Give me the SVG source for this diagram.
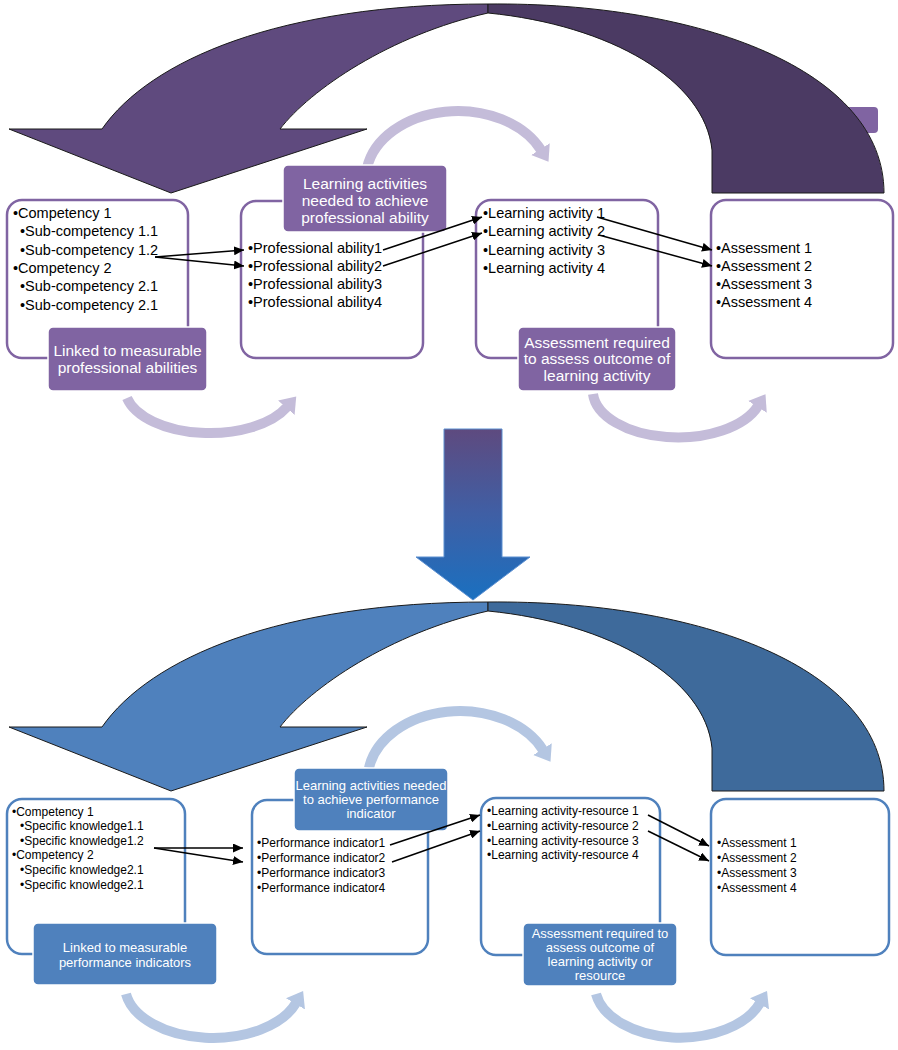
<svg xmlns="http://www.w3.org/2000/svg" width="898" height="1050" viewBox="0 0 898 1050">
<style>
.bg{fill:#ffffff}
.boxP{fill:#ffffff;stroke:#8064a2;stroke-width:2.5}
.boxB{fill:#ffffff;stroke:#4f81bd;stroke-width:2.5}
.labP{fill:#8064a2;stroke:#ffffff;stroke-width:1.5}
.labB{fill:#4f81bd;stroke:#ffffff;stroke-width:1.5}
.t1{font-family:"Liberation Sans",Arial,sans-serif;font-size:14.5px;fill:#000}
.t2{font-family:"Liberation Sans",Arial,sans-serif;font-size:12px;fill:#000}
.lt1{font-family:"Liberation Sans",Arial,sans-serif;font-size:15.5px;fill:#ffffff;text-anchor:middle}
.lt2{font-family:"Liberation Sans",Arial,sans-serif;font-size:13px;fill:#ffffff;text-anchor:middle}
.conn{stroke:#000;stroke-width:1.5;fill:none;marker-end:url(#ah)}
.arcP{fill:none;stroke:#c4bcd9;stroke-width:10;marker-end:url(#hP)}
.arcB{fill:none;stroke:#b4c6e2;stroke-width:10;marker-end:url(#hB)}
.edge{stroke:#1a1a1a;stroke-width:1}
</style>
<defs>
<marker id="ah" markerUnits="userSpaceOnUse" markerWidth="11" markerHeight="9" refX="10" refY="4.5" orient="auto"><path d="M0,0 L10,4.5 L0,9 z" fill="#000"/></marker>
<marker id="hP" markerUnits="userSpaceOnUse" markerWidth="16" markerHeight="22" refX="1" refY="11" orient="auto"><path d="M0,0 L15,11 L0,22 z" fill="#c4bcd9"/></marker>
<marker id="hB" markerUnits="userSpaceOnUse" markerWidth="16" markerHeight="22" refX="1" refY="11" orient="auto"><path d="M0,0 L15,11 L0,22 z" fill="#b4c6e2"/></marker>
<linearGradient id="gDown" x1="0" y1="0" x2="0" y2="1">
<stop offset="0" stop-color="#5e4a7f"/>
<stop offset="0.5" stop-color="#3f5fa5"/>
<stop offset="1" stop-color="#1a70c0"/>
</linearGradient>
</defs>
<rect class="bg" x="0" y="0" width="898" height="1050"/>

<!-- TOP SECTION -->
<g id="top-big-arrow">
<rect x="840" y="107" width="38" height="26" rx="4" fill="#8064a2"/>
<path class="edge" fill="#5f4a7e" d="M9,129 L102,129 C150,60 280,4 488,4 L488,13 C390,35 310,90 280,129 L367,129 L171,193 Z"/>
<path class="edge" fill="#4b3a63" d="M488,4 C700,2 884,70 884,193 L712,193 L712,150 C705,80 610,25 488,13 Z"/>
</g>
<g id="top-cycle-arrows">
<path class="arcP" d="M367,168 A92,68 0 0 1 541,150"/>
<path class="arcP" d="M127,398 A85,45 0 0 0 287,407"/>
<path class="arcP" d="M593,394 A85,47 0 0 0 758,406"/>
</g>
<g id="top-box1">
<rect class="boxP" x="7" y="200" width="181" height="158" rx="15"/>
<text class="t1" x="13" y="218">•Competency 1</text>
<text class="t1" x="20" y="236.3">•Sub-competency 1.1</text>
<text class="t1" x="20" y="254.6">•Sub-competency 1.2</text>
<text class="t1" x="13" y="272.9">•Competency 2</text>
<text class="t1" x="20" y="291.2">•Sub-competency 2.1</text>
<text class="t1" x="20" y="309.5">•Sub-competency 2.1</text>
</g>
<g id="top-box2">
<rect class="boxP" x="241" y="201" width="182" height="157" rx="15"/>
<text class="t1" x="248" y="253">•Professional ability1</text>
<text class="t1" x="248" y="271">•Professional ability2</text>
<text class="t1" x="248" y="289">•Professional ability3</text>
<text class="t1" x="248" y="307">•Professional ability4</text>
</g>
<g id="top-box3">
<rect class="boxP" x="476" y="200" width="182" height="158" rx="15"/>
<text class="t1" x="483" y="218">•Learning activity 1</text>
<text class="t1" x="483" y="236.3">•Learning activity 2</text>
<text class="t1" x="483" y="254.6">•Learning activity 3</text>
<text class="t1" x="483" y="272.9">•Learning activity 4</text>
</g>
<g id="top-box4">
<rect class="boxP" x="711" y="200" width="182" height="158" rx="15"/>
<text class="t1" x="716" y="253">•Assessment 1</text>
<text class="t1" x="716" y="271">•Assessment 2</text>
<text class="t1" x="716" y="289">•Assessment 3</text>
<text class="t1" x="716" y="307">•Assessment 4</text>
</g>
<g id="top-label1">
<rect class="labP" x="48" y="327" width="159" height="64" rx="5"/>
<text class="lt1" x="127.5" y="355.5">Linked to measurable</text>
<text class="lt1" x="127.5" y="372.5">professional abilities</text>
</g>
<g id="top-label2">
<rect class="labP" x="283" y="165" width="164" height="67" rx="5"/>
<text class="lt1" x="365" y="188.5">Learning activities</text>
<text class="lt1" x="365" y="205.5">needed to achieve</text>
<text class="lt1" x="365" y="222.5">professional ability</text>
</g>
<g id="top-label3">
<rect class="labP" x="518" y="327" width="158" height="64" rx="5"/>
<text class="lt1" x="597" y="347.5">Assessment required</text>
<text class="lt1" x="597" y="364">to assess outcome of</text>
<text class="lt1" x="597" y="380.5">learning activity</text>
</g>

<!-- MIDDLE ARROW -->
<g id="down-arrow">
<path d="M444,429 L502,429 L502,557 L530,557 L473,600 L416,557 L444,557 Z" fill="url(#gDown)" stroke="#5b8fd0" stroke-width="1"/>
</g>

<!-- BOTTOM SECTION -->
<g id="bottom-big-arrow" transform="translate(0,598)">
<path class="edge" fill="#4f81bd" d="M9,129 L102,129 C150,60 280,4 488,4 L488,13 C390,35 310,90 280,129 L367,129 L171,193 Z"/>
<path class="edge" fill="#3e6a9b" d="M488,4 C700,2 884,70 884,193 L712,193 L712,150 C705,80 610,25 488,13 Z"/>
</g>
<g id="bottom-cycle-arrows">
<path class="arcB" d="M369,768 A92,68 0 0 1 543,750"/>
<path class="arcB" d="M126,994 A88,52 0 0 0 296,1003"/>
<path class="arcB" d="M596,994 A85,52 0 0 0 760,1003"/>
</g>
<g id="bottom-box1">
<rect class="boxB" x="7" y="799" width="178" height="155" rx="15"/>
<text class="t2" x="12" y="815.5">•Competency 1</text>
<text class="t2" x="20" y="830">•Specific knowledge1.1</text>
<text class="t2" x="20" y="844.5">•Specific knowledge1.2</text>
<text class="t2" x="12" y="859">•Competency 2</text>
<text class="t2" x="20" y="874">•Specific knowledge2.1</text>
<text class="t2" x="20" y="889">•Specific knowledge2.1</text>
</g>
<g id="bottom-box2">
<rect class="boxB" x="252" y="800" width="176" height="154" rx="15"/>
<text class="t2" x="257" y="847">•Performance indicator1</text>
<text class="t2" x="257" y="862">•Performance indicator2</text>
<text class="t2" x="257" y="877">•Performance indicator3</text>
<text class="t2" x="257" y="892">•Performance indicator4</text>
</g>
<g id="bottom-box3">
<rect class="boxB" x="481" y="798" width="179" height="157" rx="15"/>
<text class="t2" x="487" y="815">•Learning activity-resource 1</text>
<text class="t2" x="487" y="830">•Learning activity-resource 2</text>
<text class="t2" x="487" y="845">•Learning activity-resource 3</text>
<text class="t2" x="487" y="859">•Learning activity-resource 4</text>
</g>
<g id="bottom-box4">
<rect class="boxB" x="711" y="799" width="178" height="156" rx="15"/>
<text class="t2" x="717" y="847">•Assessment 1</text>
<text class="t2" x="717" y="862">•Assessment 2</text>
<text class="t2" x="717" y="877">•Assessment 3</text>
<text class="t2" x="717" y="892">•Assessment 4</text>
</g>
<g id="bottom-label1">
<rect class="labB" x="33" y="923" width="184" height="62" rx="5"/>
<text class="lt2" x="125" y="951.5">Linked to measurable</text>
<text class="lt2" x="125" y="966.5">performance indicators</text>
</g>
<g id="bottom-label2">
<rect class="labB" x="294" y="768" width="154" height="63" rx="5"/>
<text class="lt2" x="371" y="789.5">Learning activities needed</text>
<text class="lt2" x="371" y="803.5">to achieve performance</text>
<text class="lt2" x="371" y="817.5">indicator</text>
</g>
<g id="bottom-label3">
<rect class="labB" x="523" y="923" width="154" height="63" rx="5"/>
<text class="lt2" x="600" y="937.5">Assessment required to</text>
<text class="lt2" x="600" y="951.5">assess outcome of</text>
<text class="lt2" x="600" y="966">learning activity or</text>
<text class="lt2" x="600" y="980">resource</text>
</g>

<g id="connectors">
<line class="conn" x1="155" y1="257" x2="244" y2="250"/>
<line class="conn" x1="155" y1="257" x2="244" y2="266"/>
<line class="conn" x1="383" y1="250" x2="482" y2="217"/>
<line class="conn" x1="383" y1="266" x2="482" y2="233"/>
<line class="conn" x1="597" y1="217" x2="712" y2="250"/>
<line class="conn" x1="599" y1="235" x2="712" y2="266"/>
<line class="conn" x1="154" y1="848" x2="243" y2="848"/>
<line class="conn" x1="154" y1="848" x2="243" y2="862"/>
<line class="conn" x1="390" y1="845" x2="480" y2="815"/>
<line class="conn" x1="392" y1="862" x2="480" y2="831"/>
<line class="conn" x1="648" y1="815" x2="709" y2="846"/>
<line class="conn" x1="648" y1="831" x2="709" y2="861"/>
</g>
</svg>
